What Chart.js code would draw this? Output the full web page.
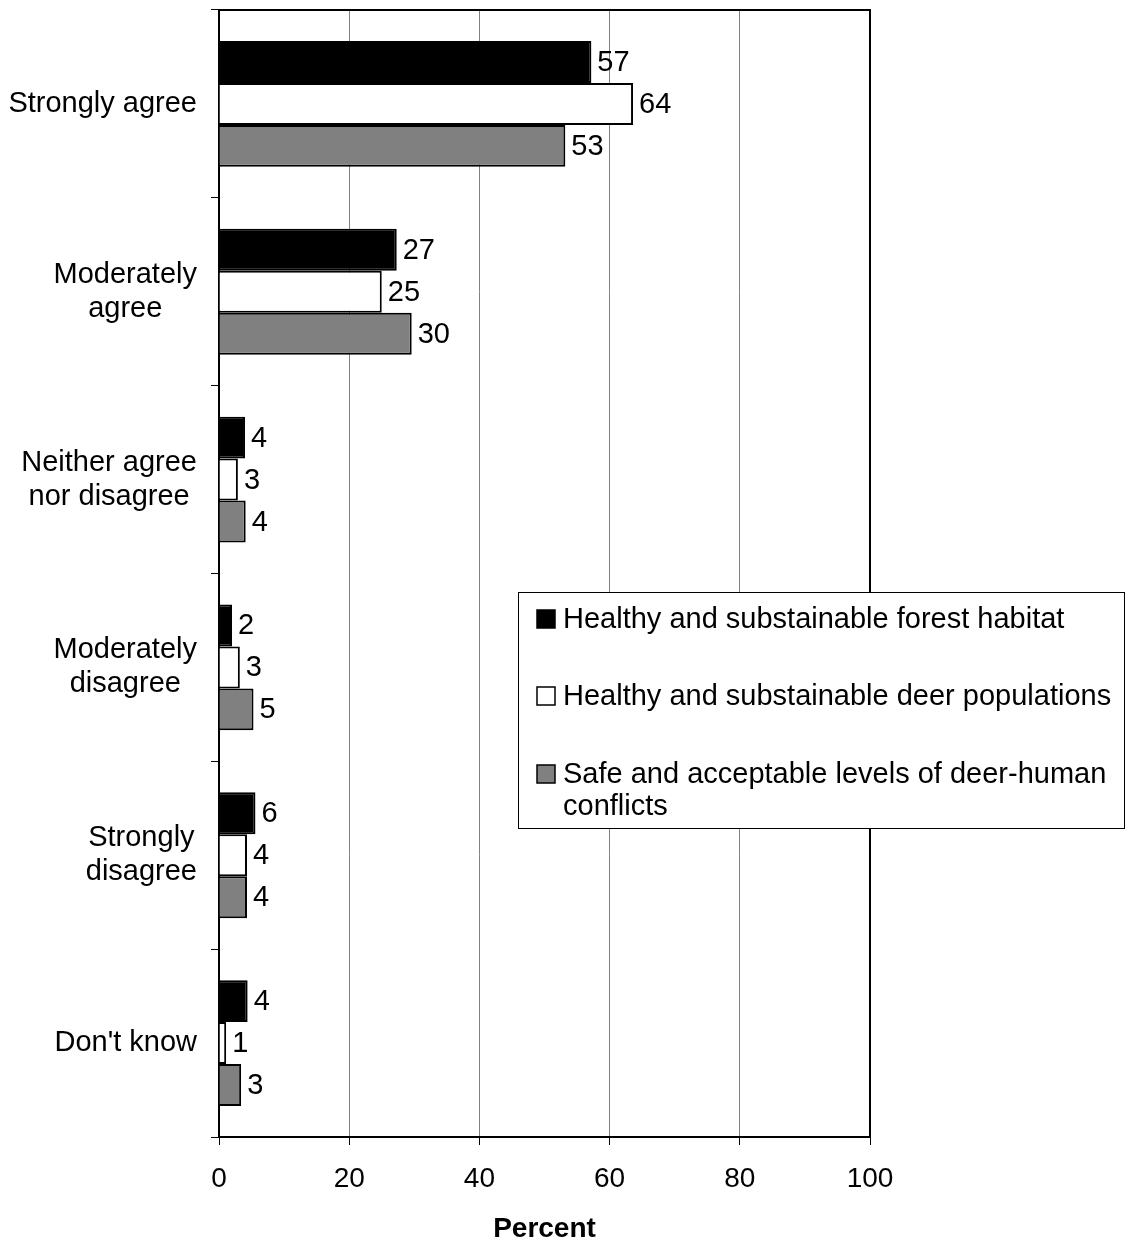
<!DOCTYPE html>
<html>
<head>
<meta charset="utf-8">
<script src="https://cdn.jsdelivr.net/npm/chart.js@4.4.1/dist/chart.umd.min.js"></script>
<style>
  html, body { margin: 0; padding: 0; background: #fff; }
  #wrap { width: 1125px; height: 1243px; position: relative; }
</style>
</head>
<body>
<div id="wrap"><canvas id="chart"></canvas></div>
<script>
const categories = [
    ['Strongly agree'],
    ['Moderately', 'agree'],
    ['Neither agree', 'nor disagree'],
    ['Moderately', 'disagree'],
    ['Strongly', 'disagree'],
    ["Don't know"]
];
const seriesNames = [
    'Healthy and substainable forest habitat',
    'Healthy and substainable deer populations',
    'Safe and acceptable levels of deer-human conflicts'
];
const forestValues = [57.2, 27.3, 4.0, 2.0, 5.6, 4.4];
const deerValues = [63.6, 25.0, 2.9, 3.2, 4.3, 1.1];
const conflictValues = [53.2, 29.6, 4.1, 5.3, 4.3, 3.4];
const xTicks = [0, 20, 40, 60, 80, 100];
const colors = ['#000000', '#ffffff', '#808080'];

const FONT = 'Arial, "Liberation Sans", sans-serif';
const FS = 28;
const LABEL_FS = 29;

// value labels next to each bar
const valueLabels = {
    id: 'valueLabels',
    afterDatasetsDraw(chart) {
        const ctx = chart.ctx;
        ctx.save();
        ctx.font = LABEL_FS + 'px ' + FONT;
        ctx.fillStyle = '#000';
        ctx.textAlign = 'left';
        ctx.textBaseline = 'middle';
        chart.data.datasets.forEach((ds, i) => {
            chart.getDatasetMeta(i).data.forEach((bar, j) => {
                ctx.fillText(String(Math.round(ds.data[j])), bar.x + 6, bar.y + 1);
            });
        });
        ctx.restore();
    }
};

// category labels: lines centered with each other, block right-aligned
const catLabels = {
    id: 'catLabels',
    afterDraw(chart) {
        const ctx = chart.ctx;
        const y = chart.scales.y;
        ctx.save();
        ctx.font = LABEL_FS + 'px ' + FONT;
        ctx.fillStyle = '#000';
        ctx.textAlign = 'center';
        ctx.textBaseline = 'middle';
        const right = chart.chartArea.left - 22;
        const lh = 34;
        categories.forEach((lines, i) => {
            const w = Math.max(...lines.map(l => ctx.measureText(l).width));
            const cx = right - w / 2;
            const cy = y.getPixelForValue(i);
            lines.forEach((l, k) => {
                ctx.fillText(l, cx, cy + (k - (lines.length - 1) / 2) * lh);
            });
        });
        ctx.restore();
    }
};

// plot frame + legend box
const frameAndLegend = {
    id: 'frameAndLegend',
    afterDraw(chart) {
        const ctx = chart.ctx;
        const a = chart.chartArea;
        ctx.save();
        ctx.strokeStyle = '#000';
        ctx.lineWidth = 2;
        ctx.beginPath();
        ctx.moveTo(a.left, a.top);
        ctx.lineTo(a.right, a.top);
        ctx.lineTo(a.right, a.bottom);
        ctx.stroke();

        // legend
        const lx = 518.5, ly = 592.5, lw = 606, lh = 236;
        ctx.fillStyle = '#fff';
        ctx.fillRect(lx, ly, lw, lh);
        ctx.lineWidth = 1;
        ctx.strokeRect(lx, ly, lw, lh);
        ctx.font = LABEL_FS + 'px ' + FONT;
        ctx.textAlign = 'left';
        ctx.textBaseline = 'middle';
        const rows = [619, 696, 774];
        const texts = [
            [seriesNames[0]],
            [seriesNames[1]],
            ['Safe and acceptable levels of deer-human', 'conflicts']
        ];
        rows.forEach((ry, i) => {
            ctx.fillStyle = colors[i];
            ctx.fillRect(537, ry - 9, 18, 18);
            ctx.strokeStyle = '#000';
            ctx.lineWidth = 1.5;
            ctx.strokeRect(537, ry - 9, 18, 18);
            ctx.fillStyle = '#000';
            texts[i].forEach((t, k) => ctx.fillText(t, 563, ry + 1 + k * 32));
        });
        ctx.restore();
    }
};

new Chart(document.getElementById('chart').getContext('2d'), {
    type: 'bar',
    data: {
        labels: categories,
        datasets: [
            { label: seriesNames[0], data: forestValues, backgroundColor: colors[0] },
            { label: seriesNames[1], data: deerValues, backgroundColor: colors[1] },
            { label: seriesNames[2], data: conflictValues, backgroundColor: colors[2] }
        ].map(d => ({ ...d, borderColor: '#000', borderWidth: 2, categoryPercentage: 0.67, barPercentage: 1 }))
    },
    options: {
        indexAxis: 'y',
        responsive: true,
        maintainAspectRatio: false,
        animation: false,
        layout: { padding: { top: 10, right: 255, left: 0, bottom: 0 } },
        plugins: { legend: { display: false }, tooltip: { enabled: false } },
        scales: {
            x: {
                min: 0, max: 100,
                afterBuildTicks: s => { s.ticks = xTicks.map(v => ({ value: v })); },
                afterFit: s => { s.height = 106; },
                grid: { color: '#808080', lineWidth: 1, tickLength: 8, tickColor: '#000' },
                border: { color: '#000', width: 2 },
                ticks: { color: '#000', font: { family: FONT, size: FS }, padding: 17, maxRotation: 0 },
                title: { display: true, text: 'Percent', color: '#000', font: { family: FONT, size: FS, weight: 'bold' }, padding: { top: 15, bottom: -3 } }
            },
            y: {
                afterFit: s => { s.width = 219; },
                grid: { drawOnChartArea: false, tickLength: 8, color: '#000', offset: true },
                border: { color: '#000', width: 2 },
                ticks: { display: false }
            }
        }
    },
    plugins: [valueLabels, catLabels, frameAndLegend]
});
</script>
</body>
</html>
